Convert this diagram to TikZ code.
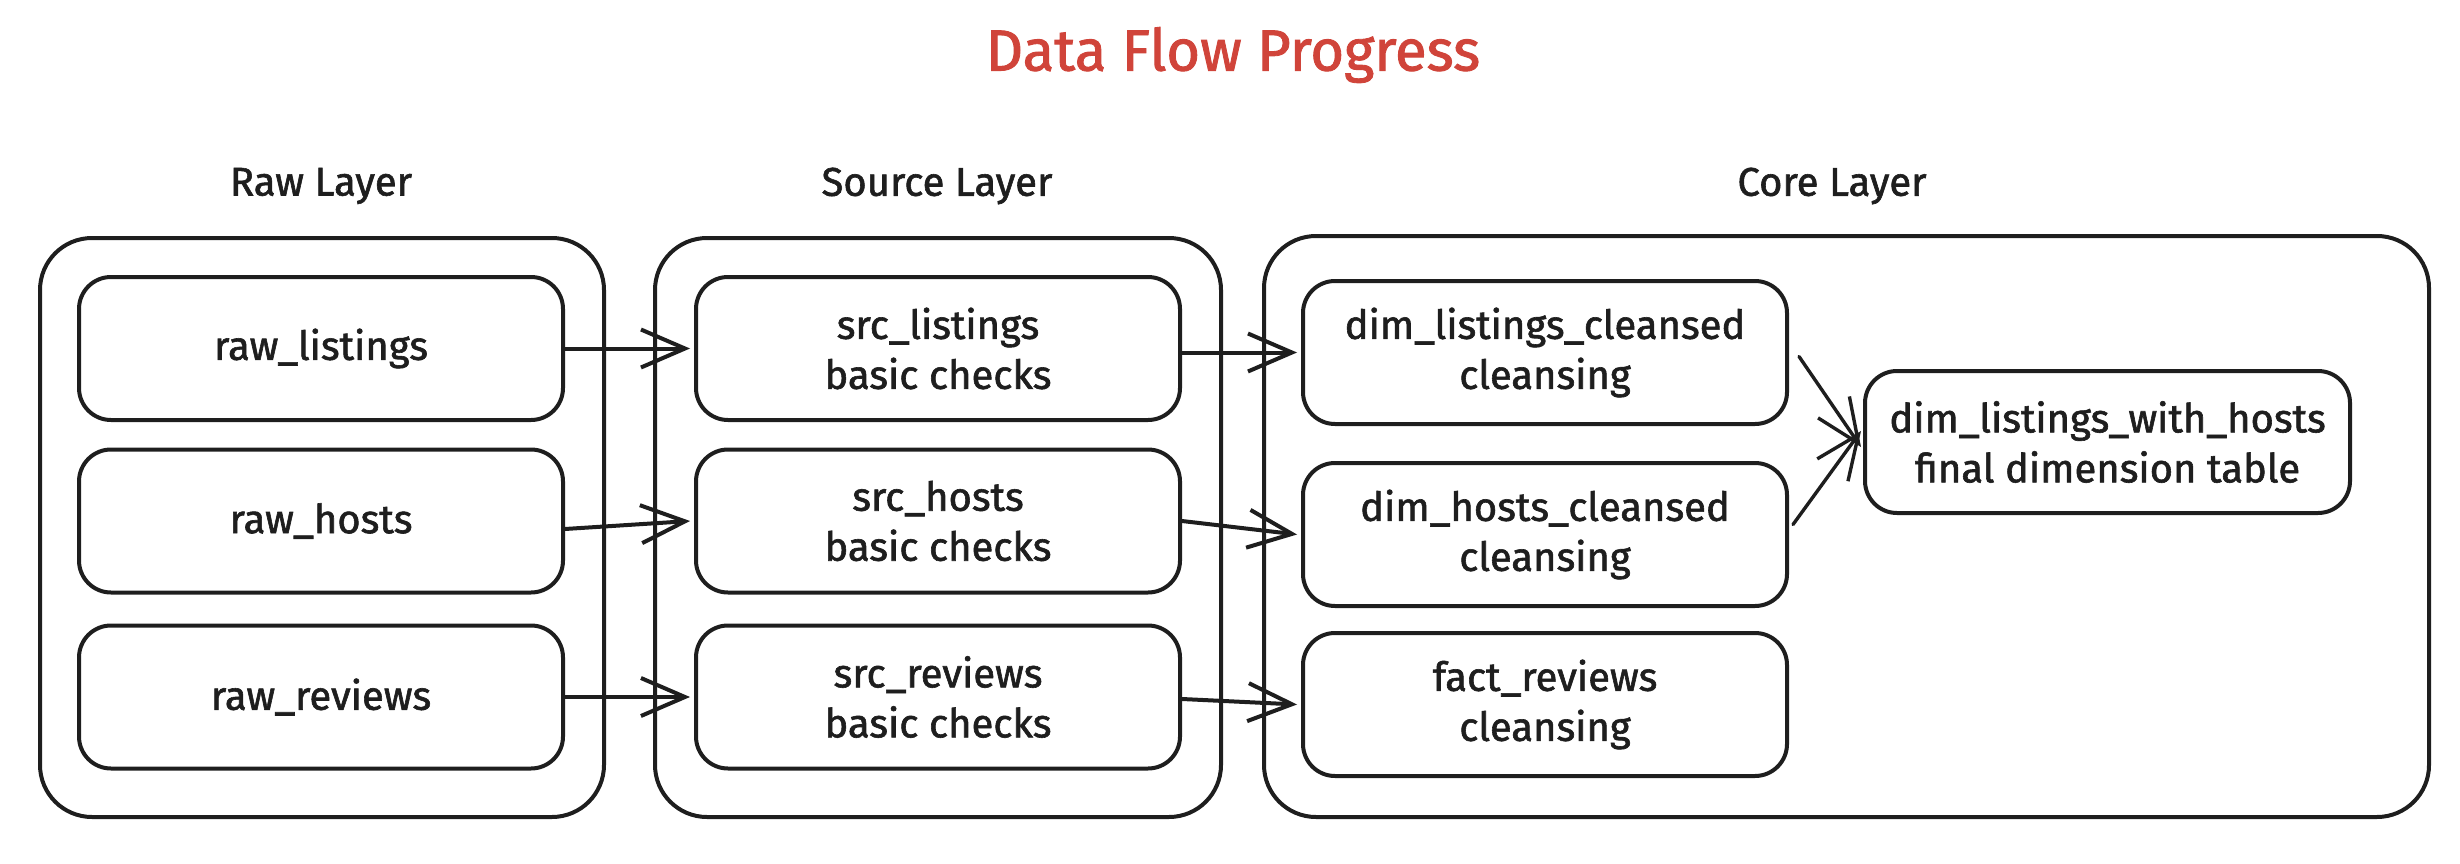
\documentclass[tikz,border=0pt]{standalone}
\usepackage{fontspec}
\setmainfont{Fira Sans}[FakeBold=1.5]
\usetikzlibrary{arrows.meta}
\definecolor{ink}{HTML}{1E1E1E}
\definecolor{titlered}{RGB}{208,68,58}
\tikzset{
  layerbox/.style={draw=ink, line width=4pt, rounded corners=52pt},
  stepbox/.style={draw=ink, line width=4pt, rounded corners=32pt, align=center,
    minimum width=484pt, minimum height=143pt, inner sep=0pt,
    font=\fontsize{40}{50}\selectfont, text=ink},
  layerlabel/.style={font=\fontsize{40}{48}\selectfont, text=ink},
  flow/.style={draw=ink, line width=4pt, line cap=round,
    -{Straight Barb[length=44pt,width=38pt,line width=4pt]}},
  flowthin/.style={draw=ink, line width=3.4pt, line cap=round,
    -{Straight Barb[length=44pt,width=38pt,line width=3.4pt]}}
}
\begin{document}
\begin{tikzpicture}[x=1pt,y=-1pt]
\useasboundingbox (0,0) rectangle (2460,864);
% title
\node[font=\fontsize{58}{66}\selectfont, text=titlered] (title) at (1233,55) {Data Flow Progress};
% layer labels
\node[layerlabel] (rawlbl) at (321,186) {Raw Layer};
\node[layerlabel] (srclbl) at (937,186) {Source Layer};
\node[layerlabel] (corelbl) at (1832,186) {Core Layer};
% layer boxes
\draw[layerbox] (40,238) rectangle (604,817);
\draw[layerbox] (655,238) rectangle (1221,817);
\draw[layerbox] (1264,236) rectangle (2429,817);
% raw nodes
\node[stepbox] (rl) at (321,348.5) {raw\_listings};
\node[stepbox] (rh) at (321,521) {raw\_hosts};
\node[stepbox] (rr) at (321,697) {raw\_reviews};
% source nodes
\node[stepbox] (sl) at (938,348.5) {src\_listings\\basic checks};
\node[stepbox] (sh) at (938,521) {src\_hosts\\basic checks};
\node[stepbox] (sr) at (938,697) {src\_reviews\\basic checks};
% core nodes
\node[stepbox] (dl) at (1545,352.5) {dim\_listings\_cleansed\\cleansing};
\node[stepbox] (dh) at (1545,534.5) {dim\_hosts\_cleansed\\cleansing};
\node[stepbox] (fr) at (1545,704.5) {fact\_reviews\\cleansing};
\node[stepbox, minimum width=485pt, minimum height=142pt] (dw) at (2107.5,442) {dim\_listings\_with\_hosts\\final dimension table};
% connectors
\draw[flow] (rl.east) -- ([xshift=-4pt]sl.west);
\draw[flow] ([yshift=-8pt]rh.east) -- ([xshift=-4pt]sh.west);
\draw[flow] (rr.east) -- ([xshift=-4pt]sr.west);
\draw[flow] ([yshift=-4pt]sl.east) -- ([xshift=-4pt]dl.west);
\draw[flow] (sh.east) -- ([xshift=-4pt]dh.west);
\draw[flow] ([yshift=-2pt]sr.east) -- ([xshift=-4pt]fr.west);
\draw[flowthin] ([xshift=10pt,yshift=-4pt]dl.east) -- ([xshift=-2pt,yshift=-5pt]dw.west);
\draw[flowthin] ([xshift=4pt,yshift=10pt]dh.east) -- ([xshift=-2pt,yshift=11pt]dw.west);
\end{tikzpicture}
\end{document}
